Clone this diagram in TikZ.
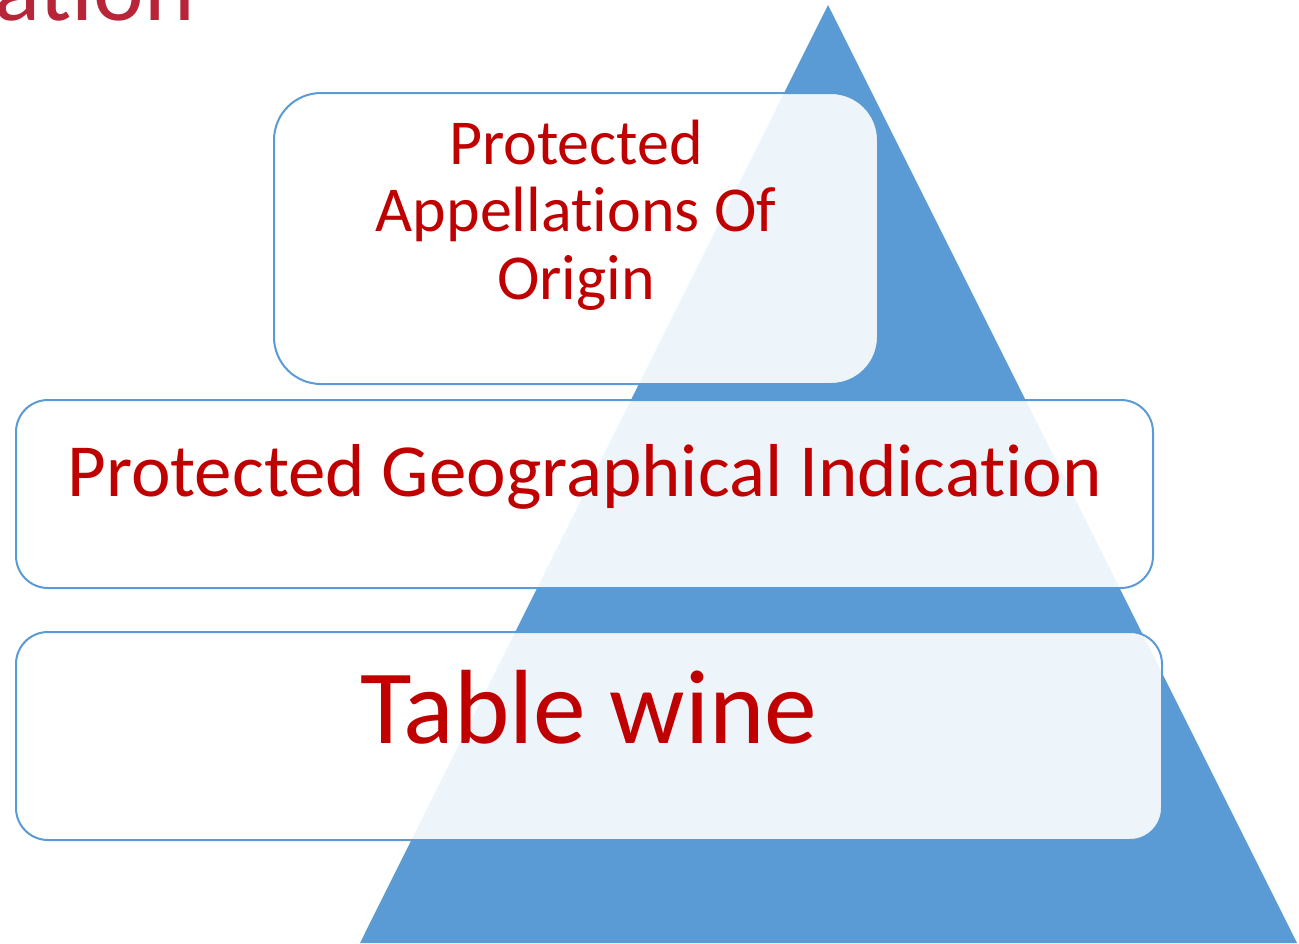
\documentclass[tikz,border=0pt]{standalone}
\usepackage{fontspec}
\setmainfont[Ligatures=NoCommon]{Carlito}
\usetikzlibrary{positioning}
\definecolor{pyrblue}{HTML}{5B9BD5}
\definecolor{tierred}{HTML}{C00000}
\definecolor{titlered}{HTML}{B82538}

\begin{document}
\begin{tikzpicture}[x=1pt,y=-1pt,
  tier/.style={draw=pyrblue,line width=2pt,fill=white,fill opacity=0.9,inner sep=0pt},
  tierlabel/.style={text=tierred,inner sep=0pt,align=center}]
\useasboundingbox (0,0) rectangle (1299,943);
\clip (0,0) rectangle (1299,943);
\node[anchor=base east,text=titlered,inner sep=0pt,font=\fontsize{96}{96}\selectfont] (title) at (195,20) {ation};
\fill[pyrblue] (828,5) -- (1297,943) -- (360,943) -- cycle;
\node[tier,minimum width=604pt,minimum height=291pt,rounded corners=47pt] (aoc) at (576,238.5) {};
\node[tier,minimum width=1137pt,minimum height=188pt,rounded corners=32pt] (pgi) at (584.5,494) {};
\node[tier,minimum width=1146pt,minimum height=208pt,rounded corners=32pt] (table) at (589,736) {};
\node[tierlabel,font=\fontsize{64}{67.5}\selectfont,below=27.5pt of aoc.north] (aoclabel) {Protected\\Appellations Of\\Origin};
\node[tierlabel,font=\fontsize{75}{78}\selectfont,below=45pt of pgi.north] (pgilabel) {Protected Geographical Indication};
\node[tierlabel,font=\fontsize{105.5}{108}\selectfont,below=39pt of table.north] (tablelabel) {Table wine};
\end{tikzpicture}
\end{document}
